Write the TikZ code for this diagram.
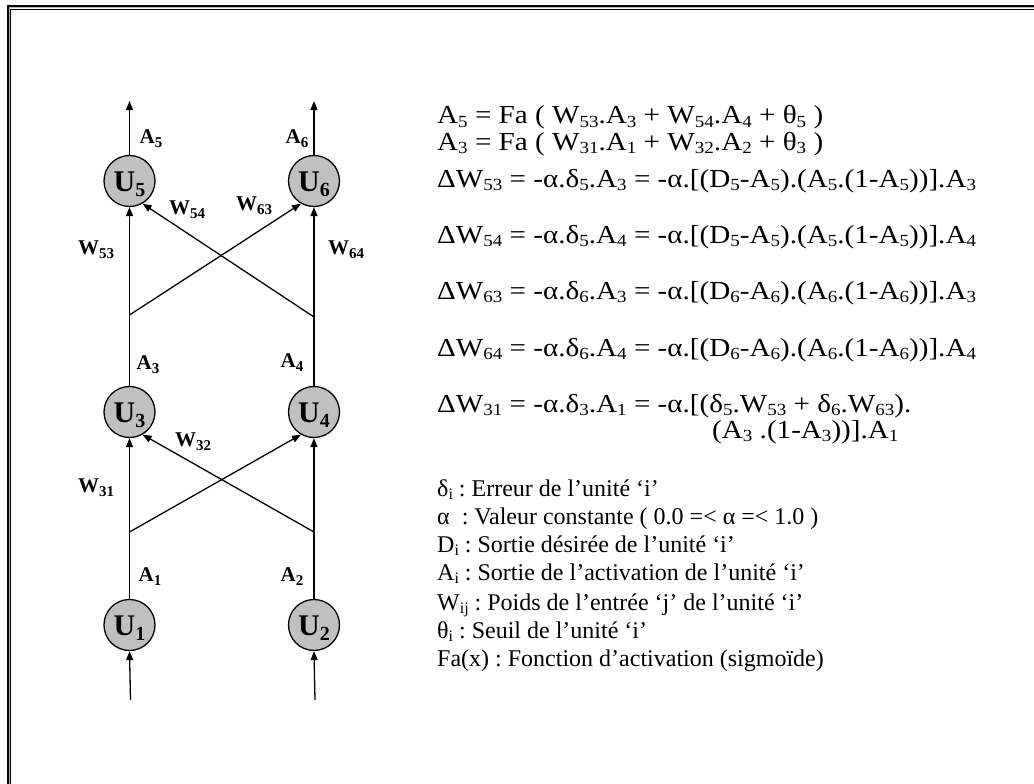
\documentclass[tikz,border=0pt]{standalone}
\usepackage{fontspec}
\setmainfont{Liberation Serif}
\newfontfamily\eqfont[FakeStretch=1.12]{Liberation Serif}
\usetikzlibrary{arrows.meta}
\definecolor{unitgray}{HTML}{C0C0C0}
\newcommand\subs[1]{\raisebox{-3pt}{\fontsize{16}{16}\selectfont #1}}
\newcommand\esub[1]{\raisebox{-3.5pt}{\fontsize{17}{17}\selectfont #1}}
\newcommand\lsub[1]{\raisebox{-4pt}{\fontsize{15}{15}\selectfont #1}}
\newcommand\usub[1]{\raisebox{-5pt}{\fontsize{20}{20}\selectfont #1}}
\frenchspacing
\begin{document}
\begin{tikzpicture}[x=1pt,y=-1pt,
  unit/.style={circle, draw, line width=1.3pt, fill=unitgray, minimum size=51pt, inner sep=0pt,
    font=\fontsize{30}{30}\selectfont\bfseries, text height=20pt, text depth=0pt},
  lbl/.style={inner sep=0pt, font=\fontsize{21}{21}\selectfont\bfseries},
  conn/.style={line width=1.3pt, -{Triangle[length=9pt,width=7pt]}},
  frame/.style={line cap=butt},
  eqn/.style={anchor=base west, inner sep=0pt, font=\eqfont\fontsize{26}{30}\selectfont},
  leg/.style={anchor=base west, inner sep=0pt, font=\fontsize{24}{28}\selectfont}]
\useasboundingbox (0,0) rectangle (1034,784);
% frame (double line, top and left)
\draw[frame, line width=2pt] (8,784) -- (8,6) -- (1034,6);
\draw[frame, line width=1pt, gray!60] (9.6,784) -- (9.6,7.6) -- (1034,7.6);
\draw[frame, line width=1.1pt] (10.9,784) -- (10.9,9.3) -- (1034,9.3);
% units
\node[unit] (U5) at (129.5,181) {U\usub{5}};
\node[unit] (U6) at (314,181) {U\usub{6}};
\node[unit] (U3) at (129.5,412) {U\usub{3}};
\node[unit] (U4) at (314,412) {U\usub{4}};
\node[unit] (U1) at (129.5,625) {U\usub{1}};
\node[unit] (U2) at (314,625) {U\usub{2}};
% free ends and branch points
\coordinate (o5) at (129.5,101);
\coordinate (o6) at (314,101);
\coordinate (b3) at (129.5,315);
\coordinate (b4) at (314,317);
\coordinate (b1) at (129.5,532);
\coordinate (b2) at (314,532);
\coordinate (i1) at (130.5,700);
\coordinate (i2) at (315,700);
% connectors
\draw[conn] (U5.north) -- (o5);
\draw[conn] (U6.north) -- (o6);
\draw[conn] (U3.north) -- (U5.south);
\draw[conn] (U4.north) -- (U6.south);
\draw[conn] (b3) -- (U6.240);
\draw[conn] (b4) -- (U5.300);
\draw[conn] (U1.north) -- (U3.south);
\draw[conn] (U2.north) -- (U4.south);
\draw[conn] (b1) -- (U4.240);
\draw[conn] (b2) -- (U3.300);
\draw[conn] (i1) -- (U1.south);
\draw[conn] (i2) -- (U2.south);
% labels
\node[lbl] (lA5) at (151,139) {A\lsub{5}};
\node[lbl] (lA6) at (297,139) {A\lsub{6}};
\node[lbl] (lW54) at (187,210) {W\lsub{54}};
\node[lbl] (lW63) at (254,206) {W\lsub{63}};
\node[lbl] (lW53) at (96,250) {W\lsub{53}};
\node[lbl] (lW64) at (346,250) {W\lsub{64}};
\node[lbl] (lA3) at (148,365) {A\lsub{3}};
\node[lbl] (lA4) at (292,363) {A\lsub{4}};
\node[lbl] (lW32) at (193,442) {W\lsub{32}};
\node[lbl] (lW31) at (96,488) {W\lsub{31}};
\node[lbl] (lA1) at (150,577) {A\lsub{1}};
\node[lbl] (lA2) at (292,577) {A\lsub{2}};
% equations
\node[eqn] (e1) at (437,124) {A\esub{5} = Fa ( W\esub{53}.A\esub{3} + W\esub{54}.A\esub{4} + θ\esub{5} )};
\node[eqn] (e2) at (437,150) {A\esub{3} = Fa ( W\esub{31}.A\esub{1} + W\esub{32}.A\esub{2} + θ\esub{3} )};
\node[eqn] (e3) at (437,187) {ΔW\esub{53} = -α.δ\esub{5}.A\esub{3} = -α.[(D\esub{5}-A\esub{5}).(A\esub{5}.(1-A\esub{5}))].A\esub{3}};
\node[eqn] (e4) at (437,243) {ΔW\esub{54} = -α.δ\esub{5}.A\esub{4} = -α.[(D\esub{5}-A\esub{5}).(A\esub{5}.(1-A\esub{5}))].A\esub{4}};
\node[eqn] (e5) at (437,299) {ΔW\esub{63} = -α.δ\esub{6}.A\esub{3} = -α.[(D\esub{6}-A\esub{6}).(A\esub{6}.(1-A\esub{6}))].A\esub{3}};
\node[eqn] (e6) at (437,356) {ΔW\esub{64} = -α.δ\esub{6}.A\esub{4} = -α.[(D\esub{6}-A\esub{6}).(A\esub{6}.(1-A\esub{6}))].A\esub{4}};
\node[eqn] (e7) at (437,412) {ΔW\esub{31} = -α.δ\esub{3}.A\esub{1} = -α.[(δ\esub{5}.W\esub{53} + δ\esub{6}.W\esub{63}).};
\node[eqn] (e8) at (712,438) {(A\esub{3} .(1-A\esub{3}))].A\esub{1}};
% legend
\node[leg] (g1) at (437,496) {δ\subs{i} : Erreur de l’unité ‘i’};
\node[leg] (g2) at (437,524) {α\ \ : Valeur constante ( 0.0 =< α =< 1.0 )};
\node[leg] (g3) at (437,552) {D\subs{i} : Sortie désirée de l’unité ‘i’};
\node[leg] (g4) at (437,580) {A\subs{i} : Sortie de l’activation de l’unité ‘i’};
\node[leg] (g5) at (437,610) {W\subs{ij} : Poids de l’entrée ‘j’ de l’unité ‘i’};
\node[leg] (g6) at (437,638) {θ\subs{i} : Seuil de l’unité ‘i’};
\node[leg] (g7) at (437,666) {Fa(x) : Fonction d’activation (sigmoïde)};
\end{tikzpicture}
\end{document}
